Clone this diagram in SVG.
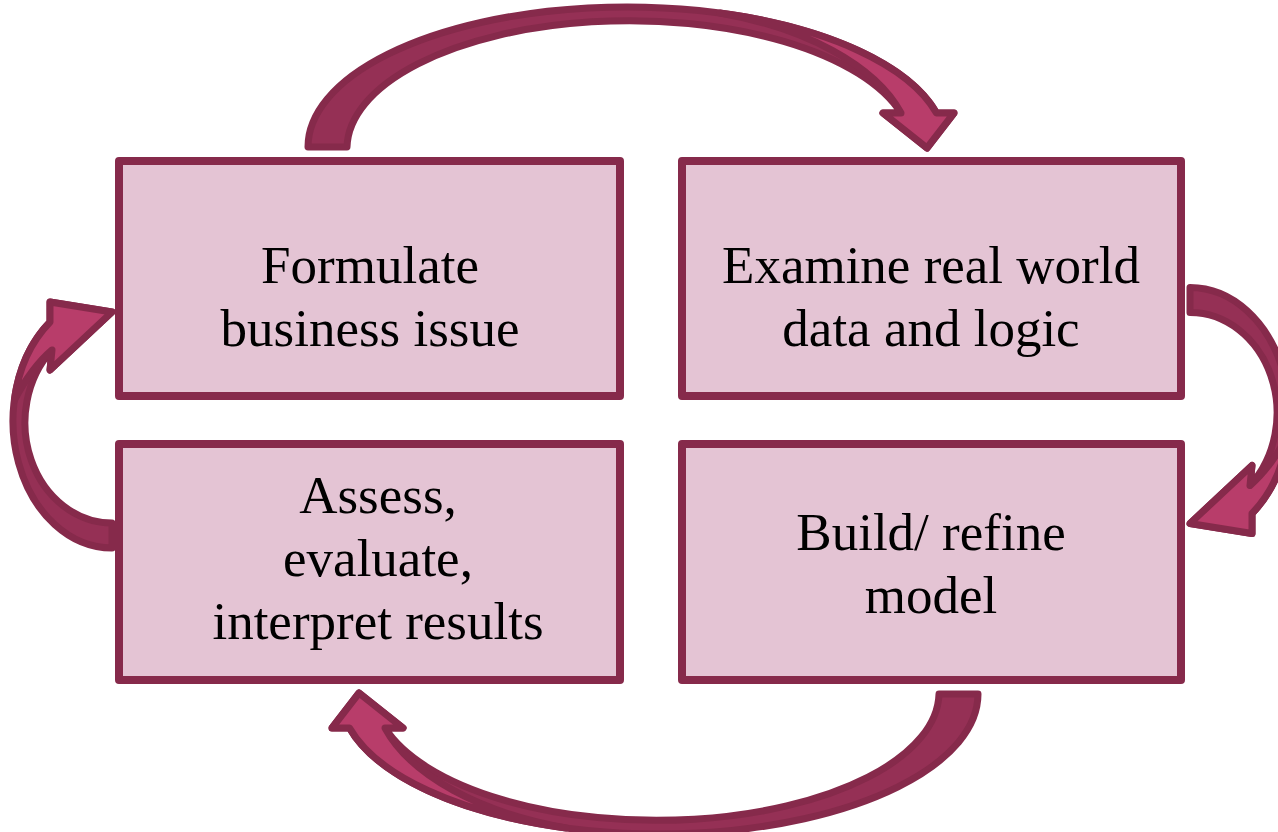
<svg xmlns="http://www.w3.org/2000/svg" width="1278" height="832" viewBox="0 0 1278 832">
<style>
.box{fill:#E4C4D4;stroke:#862A4B;stroke-width:8;stroke-linejoin:round}
.lbl{font-family:"Liberation Serif","Times New Roman",serif;font-size:53px;fill:#000;text-anchor:middle}
.back{fill:#953055;stroke:#862A4B;stroke-width:7;stroke-linejoin:round}
.front{fill:#B83D6A;stroke:#862A4B;stroke-width:7;stroke-linejoin:round}
</style>
<defs>
<g id="arcH">
<path class="back" d="M308,147 A319 140 0 0 1 936.5,113 L954,113 L927,148 L883,113 L901,113 A282.6 128 0 0 0 347,147 Z"/>
<path class="front" d="M720,13 A319 140 0 0 1 936.5,113 L954,113 L927,148 L883,113 L901,113 C875,65 805,28 720,13 Z"/>
</g>
<g id="arcV">
<path class="back" d="M112,548 A99 127 0 0 1 50,322 L50,302 L112,312 L50,370 L52,350 A87 100.3 0 0 0 112,523 Z"/>
<path class="front" d="M14.4,400 A99 127 0 0 1 50,322 L50,302 L112,312 L50,370 L52,350 C38,362 25,380 14.4,400 Z"/>
</g>
</defs>
<rect width="1278" height="832" fill="#fff"/>
<g id="connectors">
<use href="#arcH"/>
<use href="#arcH" transform="rotate(180 643 420.5)"/>
<use href="#arcV"/>
<use href="#arcV" transform="rotate(180 651 417.75)"/>
</g>
<g id="node-formulate">
<rect class="box" x="119" y="161" width="501" height="235"/>
<text class="lbl" x="370" y="283">Formulate</text>
<text class="lbl" x="370" y="346">business issue</text>
</g>
<g id="node-examine">
<rect class="box" x="682" y="161" width="499" height="235"/>
<text class="lbl" x="931" y="283">Examine real world</text>
<text class="lbl" x="931" y="346">data and logic</text>
</g>
<g id="node-assess">
<rect class="box" x="119" y="444" width="501" height="236"/>
<text class="lbl" x="378" y="513">Assess,</text>
<text class="lbl" x="378" y="576">evaluate,</text>
<text class="lbl" x="378" y="639">interpret results</text>
</g>
<g id="node-build">
<rect class="box" x="682" y="444" width="499" height="236"/>
<text class="lbl" x="931" y="550">Build/ refine</text>
<text class="lbl" x="931" y="613">model</text>
</g>
</svg>
